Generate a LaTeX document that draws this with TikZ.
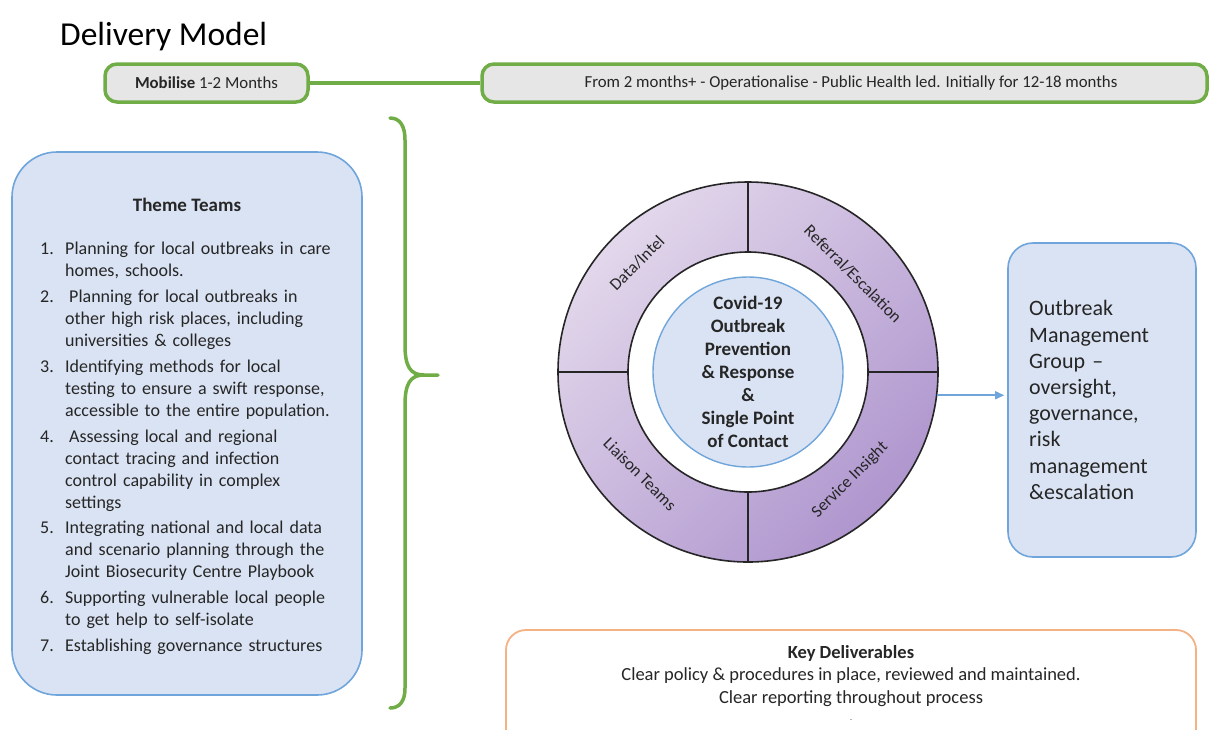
\documentclass[tikz,border=0pt]{standalone}
\usepackage{fontspec}
\setmainfont{Carlito}
\usetikzlibrary{arrows.meta,shapes.geometric}
\definecolor{grn}{HTML}{70AD47}
\definecolor{gfill}{HTML}{E7E6E6}
\definecolor{bfill}{HTML}{DAE3F3}
\definecolor{bline}{HTML}{6FA5DB}
\definecolor{orng}{HTML}{F4B183}
\definecolor{plight}{HTML}{E2D7EB}
\definecolor{pdark}{HTML}{AF96CE}
\definecolor{txt}{HTML}{262626}
\tikzset{
  phase/.style={draw=grn, line width=3.5pt, fill=gfill, rounded corners=12pt, minimum height=38pt, inner sep=0pt, font=\fontsize{16.8}{20}\selectfont, text=txt},
  bluebox/.style={draw=bline, line width=1.6pt, fill=bfill, inner sep=0pt},
  itemtxt/.style={anchor=base west, text width=290pt, align=left, inner sep=0pt, font=\fontsize{18}{22}\selectfont, text=txt},
  itemnum/.style={anchor=base west, inner sep=0pt, font=\fontsize{18}{22}\selectfont, text=txt},
  seglabel/.style={font=\fontsize{17}{19}\selectfont, text=txt, inner sep=0pt},
  ringline/.style={line width=1.6pt, black!85}
}
\begin{document}
\begin{tikzpicture}[x=1pt,y=-1pt]
\useasboundingbox (0,0) rectangle (1209,729);
\clip (0,0) rectangle (1209,729);

% title
\node[anchor=base west, inner sep=0pt, font=\fontsize{33.5}{38}\selectfont, text=black] (title) at (60,45) {Delivery Model};

% phases
\node[phase, minimum width=203pt] (mob) at (206.5,83) {\textbf{Mobilise} 1-2 Months};
\node[phase, minimum width=725pt] (ops) at (844.5,83) {\hspace{13pt}From 2 months+ - Operationalise - Public Health led. Initially for 12-18 months};
\draw[grn, line width=3.5pt] (mob.east) -- (ops.west);

% brace
\coordinate (btop) at (390,118);
\coordinate (bbot) at (390,708);
\coordinate (btip) at (438,375);
\draw[grn, line width=3.5pt, line cap=round]
  (btop) .. controls (400,118) and (405,126) .. (405,140)
  -- (405,345) .. controls (405,366) and (410,375) .. (424,375) -- (btip);
\draw[grn, line width=3.5pt, line cap=round]
  (424,375) .. controls (410,375) and (405,384) .. (405,405)
  -- (405,688) .. controls (405,702) and (399,708) .. (bbot);

% theme teams box
\node[bluebox, rounded corners=45pt, minimum width=350pt, minimum height=543pt] (theme) at (187,423.5) {};
\node[font=\bfseries\fontsize{19}{22}\selectfont, text=txt, inner sep=0pt] (tt) at (187,205) {Theme Teams};

\foreach \n/\y/\t in {
  1/254/{Planning for local outbreaks in care\\homes, schools.},
  2/302/{\hspace{4pt}Planning for local outbreaks in\\other high risk places, including\\universities \& colleges},
  3/372/{Identifying methods for local\\testing to ensure a swift response,\\accessible to the entire population.},
  4/442/{\hspace{4pt}Assessing local and regional\\contact tracing and infection\\control capability in complex\\settings},
  5/533/{Integrating national and local data\\and scenario planning through the\\Joint Biosecurity Centre Playbook},
  6/603/{Supporting vulnerable local people\\to get help to self-isolate},
  7/651/{Establishing governance structures}}{
  \node[itemnum] (n\n) at (40,\y) {\n.};
  \node[itemtxt] (i\n) at (65,\y) {\t};
}

% ring
\node[circle, minimum size=380pt, inner sep=0pt, draw=black!85, line width=1.6pt,
      top color=plight, bottom color=pdark, shading angle=45] (ring) at (748,372) {};
\node[circle, minimum size=240pt, inner sep=0pt, draw=black!85, line width=1.6pt, fill=white] (hole) at (748,372) {};
\draw[ringline] (ring.north) -- (hole.north);
\draw[ringline] (ring.south) -- (hole.south);
\draw[ringline] (ring.west) -- (hole.west);
\draw[ringline] (ring.east) -- (hole.east);
\node[circle, minimum size=190pt, inner sep=0pt, draw=bline, line width=1.4pt, fill=bfill,
      align=center, font=\bfseries\fontsize{19}{23}\selectfont, text=txt] (core) at (748,372)
  {Covid-19\\Outbreak\\Prevention\\\& Response\\\&\\Single Point\\of Contact};

\node[seglabel, rotate=45] (s1) at (637,263) {Data/Intel};
\node[seglabel, rotate=-45] (s2) at (853,274) {Referral/Escalation};
\node[seglabel, rotate=-45] (s3) at (640,474) {Liaison Teams};
\node[seglabel, rotate=45] (s4) at (850,480) {Service Insight};

% outbreak management group
\node[bluebox, rounded corners=25pt, minimum width=188pt, minimum height=314pt] (omg) at (1102,400) {};
\node[anchor=west, text width=160pt, align=left, inner sep=0pt, font=\fontsize{22}{26.2}\selectfont, text=txt] (omgt) at (1029,400)
  {Outbreak\\Management\\Group --\\oversight,\\governance,\\risk\\management\\\&escalation};
\draw[bline, line width=1.6pt, -{Triangle[length=9pt,width=8pt]}, shorten >=3pt] (ring.-7.5) -- (ring.-7.5 -| omg.west);

% key deliverables
\draw[orng, line width=1.8pt, fill=white, rounded corners=20pt] (506,630) rectangle (1196,770);
\node[align=center, inner sep=0pt, font=\fontsize{18.5}{22.5}\selectfont, text=txt] (kd) at (851,676)
  {\textbf{Key Deliverables}\\Clear policy \& procedures in place, reviewed and maintained.\\Clear reporting throughout process};
\node[inner sep=0pt, font=\fontsize{8}{10}\selectfont, text=txt, anchor=base] (kdot) at (851,720) {.};
\end{tikzpicture}
\end{document}
